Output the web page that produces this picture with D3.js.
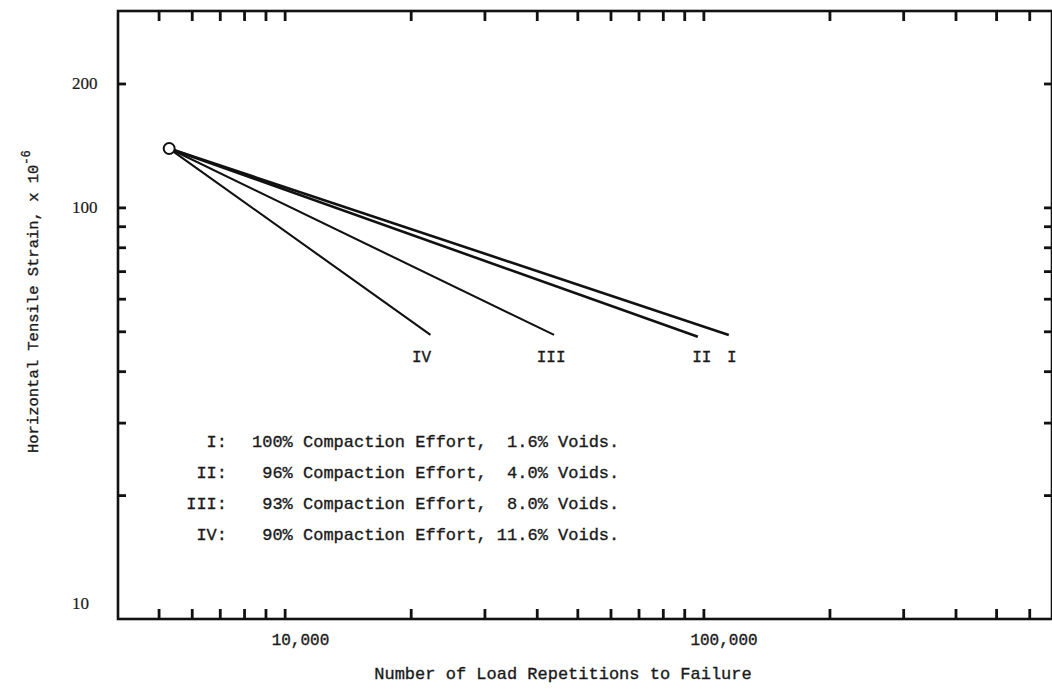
<!DOCTYPE html>
<html>
<head>
<meta charset="utf-8">
<script src="https://cdn.jsdelivr.net/npm/d3@7"></script>
<style>
  html, body { margin: 0; padding: 0; background: #fff; }
  text { fill: #1a1a1a; stroke: #1a1a1a; stroke-width: 0.35px; }
  .mono { font-family: 'Liberation Mono', 'DejaVu Sans Mono', monospace; }
  .serif { font-family: 'Liberation Serif', serif; }
</style>
</head>
<body>
<div id="chart"></div>
<script>
// values
const seriesNames = ['I', 'II', 'III', 'IV'];
const failureReps = [115000, 97000, 44000, 22300];
const failureStrain = [49, 48.5, 49, 49];
const startPoint = [5300, 139];
const compaction = ['100%', '96%', '93%', '90%'];
const voids = ['1.6%', '4.0%', '8.0%', '11.6%'];

const xTickValues = [5000, 6000, 7000, 8000, 9000, 10000,
  20000, 30000, 40000, 50000, 60000, 70000, 80000, 90000, 100000,
  200000, 300000, 400000, 500000, 600000];
const yTickValues = [20, 30, 40, 50, 60, 70, 80, 90, 100, 200];
const xLabelValues = [10000, 100000];
const yLabelValues = [10, 100, 200];

const width = 1052, height = 688;
const plot = { left: 118, right: 1052, top: 11, bottom: 619 };

const svg = d3.select('#chart').append('svg')
    .attr('width', width)
    .attr('height', height);

const xScale = d3.scaleLog().domain([4000, 680000]).range([plot.left, plot.right]),
      yScale = d3.scaleLog().domain([10, 300]).range([plot.bottom, plot.top]);

// ticks on all four sides, pointing inward
const axes = [
  { axis: d3.axisBottom(xScale), tr: 'translate(0,' + plot.bottom + ')', vals: xTickValues, len: 10 },
  { axis: d3.axisTop(xScale), tr: 'translate(0,' + plot.top + ')', vals: xTickValues, len: 10 },
  { axis: d3.axisLeft(yScale), tr: 'translate(' + plot.left + ',0)', vals: yTickValues, len: 8 },
  { axis: d3.axisRight(yScale), tr: 'translate(' + plot.right + ',0)', vals: yTickValues, len: 8 }
];
axes.forEach(a => {
  const g = svg.append('g')
      .attr('transform', a.tr)
      .call(a.axis.tickValues(a.vals).tickSize(-a.len).tickSizeOuter(0).tickFormat(''));
  g.select('.domain').remove();
  g.selectAll('.tick line').attr('stroke', '#111').attr('stroke-width', 2.8);
});

// frame
svg.append('rect')
    .attr('x', plot.left)
    .attr('y', plot.top)
    .attr('width', plot.right - plot.left)
    .attr('height', plot.bottom - plot.top)
    .attr('fill', 'none')
    .attr('stroke', '#111')
    .attr('stroke-width', 2.6);

// tick labels
svg.append('g').selectAll('text')
    .data(xLabelValues)
  .enter().append('text')
    .attr('class', 'mono')
    .attr('x', d => xScale(d) - 13)
    .attr('y', 645)
    .style('font-size', '16px')
    .text(d => d3.format(',')(d));

svg.append('g').selectAll('text')
    .data(yLabelValues)
  .enter().append('text')
    .attr('class', 'serif')
    .attr('x', 72)
    .attr('y', d => yScale(d) + (d === 10 ? -10 : 6))
    .style('font-size', '17px')
    .style('stroke-width', '0.2px')
    .text(d => d);

// axis titles
svg.append('text')
    .attr('class', 'mono')
    .attr('x', 563)
    .attr('y', 679)
    .attr('text-anchor', 'middle')
    .style('font-size', '17px')
    .text('Number of Load Repetitions to Failure');

const yTitle = svg.append('text')
    .attr('class', 'mono')
    .attr('transform', 'translate(38,453) rotate(-90)')
    .style('font-size', '15.5px');
yTitle.append('tspan').text('Horizontal Tensile Strain, x 10');
yTitle.append('tspan').attr('dy', -8).style('font-size', '12px').text('-6');

// fatigue lines from the common start point
const lines = svg.append('g');
lines.selectAll('line')
    .data(seriesNames)
  .enter().append('line')
    .attr('x1', xScale(startPoint[0]))
    .attr('y1', yScale(startPoint[1]))
    .attr('x2', (d, i) => xScale(failureReps[i]))
    .attr('y2', (d, i) => yScale(failureStrain[i]))
    .attr('stroke', '#111')
    .attr('stroke-width', (d, i) => i < 2 ? 2.6 : 2.1);

svg.append('circle')
    .attr('cx', xScale(startPoint[0]))
    .attr('cy', yScale(startPoint[1]))
    .attr('r', 5.5)
    .attr('fill', '#fff')
    .attr('stroke', '#111')
    .attr('stroke-width', 2);

const nudge = [3, 4, -3, -9];
const labelY = yScale(d3.median(failureStrain)) + 27;
svg.append('g').selectAll('text')
    .data(seriesNames)
  .enter().append('text')
    .attr('class', 'mono')
    .attr('x', (d, i) => xScale(failureReps[i]) + nudge[i])
    .attr('y', labelY)
    .attr('text-anchor', 'middle')
    .style('font-size', '16px')
    .text(d => d);

// legend block
const legend = svg.append('g');
legend.selectAll('text.num')
    .data(seriesNames)
  .enter().append('text')
    .attr('class', 'mono num')
    .attr('x', 227)
    .attr('y', (d, i) => 447 + i * 31)
    .attr('text-anchor', 'end')
    .style('font-size', '17px')
    .text(d => d + ':');

legend.selectAll('text.desc')
    .data(seriesNames)
  .enter().append('text')
    .attr('class', 'mono desc')
    .attr('x', 252)
    .attr('y', (d, i) => 447 + i * 31)
    .style('font-size', '17px')
    .style('white-space', 'pre')
    .text((d, i) => compaction[i].padStart(4) + ' Compaction Effort, ' + voids[i].padStart(5) + ' Voids.');
</script>
</body>
</html>
